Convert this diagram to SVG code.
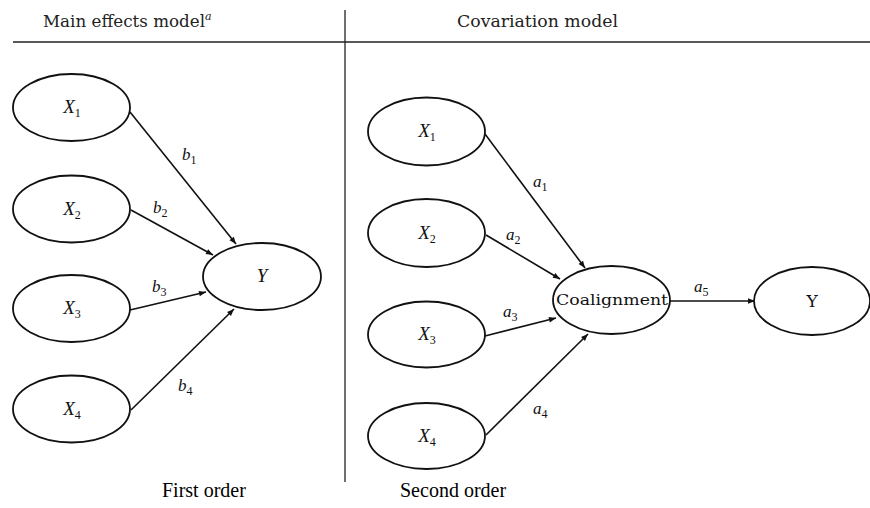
<svg xmlns="http://www.w3.org/2000/svg" width="870" height="508" viewBox="0 0 870 508">
<style>
.node{fill:#fff;stroke:#111;stroke-width:1.8}
.edge{stroke:#111;stroke-width:1.6;fill:none;marker-end:url(#arr)}
.rule{stroke:#222;stroke-width:1.3}
.hdr{font-family:"DejaVu Serif","Liberation Serif",serif;font-size:16.5px;fill:#222}
.var{font-family:"Liberation Serif",serif;font-style:italic;font-size:19px;fill:#111}
.sub{font-size:12px;font-style:normal}
.lab{font-family:"Liberation Serif",serif;font-style:italic;font-size:17px;fill:#111}
.cap{font-family:"Liberation Serif",serif;font-size:20px;fill:#000}
</style>
<defs>
<marker id="arr" viewBox="0 0 10 10" refX="10" refY="5" markerWidth="9" markerHeight="7" markerUnits="userSpaceOnUse" orient="auto">
<path d="M0,1 L10,5 L0,9 z" fill="#111"/>
</marker>
</defs>
<g id="headers">
<line class="rule" x1="13" y1="42" x2="870" y2="42"/>
<line class="rule" x1="345" y1="10" x2="345" y2="482"/>
<text class="hdr" x="43" y="27"><tspan textLength="162" lengthAdjust="spacingAndGlyphs">Main effects model</tspan><tspan font-style="italic" font-size="11" dy="-7">a</tspan></text>
<text class="hdr" x="457" y="27" textLength="161" lengthAdjust="spacingAndGlyphs">Covariation model</text>
</g>
<g id="connectors">
<line class="edge" x1="130" y1="112" x2="236" y2="244"/>
<line class="edge" x1="131" y1="210" x2="213" y2="255"/>
<line class="edge" x1="130" y1="310" x2="206" y2="292"/>
<line class="edge" x1="131" y1="410" x2="234" y2="309"/>
<line class="edge" x1="485" y1="134" x2="585" y2="268"/>
<line class="edge" x1="486" y1="235" x2="560" y2="279"/>
<line class="edge" x1="485" y1="336" x2="556" y2="318"/>
<line class="edge" x1="486" y1="435" x2="588" y2="334"/>
<line class="edge" x1="670" y1="301" x2="755" y2="301"/>
<text class="lab" x="182" y="160">b<tspan class="sub" dy="4">1</tspan></text>
<text class="lab" x="153" y="213">b<tspan class="sub" dy="4">2</tspan></text>
<text class="lab" x="152" y="292">b<tspan class="sub" dy="4">3</tspan></text>
<text class="lab" x="178" y="391">b<tspan class="sub" dy="4">4</tspan></text>
<text class="lab" x="533" y="187">a<tspan class="sub" dy="4">1</tspan></text>
<text class="lab" x="506" y="240">a<tspan class="sub" dy="4">2</tspan></text>
<text class="lab" x="503" y="317">a<tspan class="sub" dy="4">3</tspan></text>
<text class="lab" x="533" y="414">a<tspan class="sub" dy="4">4</tspan></text>
<text class="lab" x="694" y="292">a<tspan class="sub" dy="4">5</tspan></text>
</g>
<g id="L_X1"><ellipse class="node" cx="71.5" cy="107.5" rx="58.5" ry="33.5"/><text class="var" x="72" y="113" text-anchor="middle">X<tspan class="sub" dy="4">1</tspan></text></g>
<g id="L_X2"><ellipse class="node" cx="71.5" cy="209" rx="58.5" ry="33.5"/><text class="var" x="72" y="215" text-anchor="middle">X<tspan class="sub" dy="4">2</tspan></text></g>
<g id="L_X3"><ellipse class="node" cx="71.5" cy="308.5" rx="58.5" ry="33.5"/><text class="var" x="72" y="314" text-anchor="middle">X<tspan class="sub" dy="4">3</tspan></text></g>
<g id="L_X4"><ellipse class="node" cx="71.5" cy="409" rx="58.5" ry="33.5"/><text class="var" x="72" y="415" text-anchor="middle">X<tspan class="sub" dy="4">4</tspan></text></g>
<g id="L_Y"><ellipse class="node" cx="262" cy="276.5" rx="59" ry="33.5"/><text class="var" x="262" y="282" text-anchor="middle">Y</text></g>
<g id="R_X1"><ellipse class="node" cx="426.5" cy="131.5" rx="58.5" ry="34"/><text class="var" x="427" y="137" text-anchor="middle">X<tspan class="sub" dy="4">1</tspan></text></g>
<g id="R_X2"><ellipse class="node" cx="426.5" cy="233" rx="58.5" ry="34"/><text class="var" x="427" y="239" text-anchor="middle">X<tspan class="sub" dy="4">2</tspan></text></g>
<g id="R_X3"><ellipse class="node" cx="426.5" cy="334.5" rx="58.5" ry="33"/><text class="var" x="427" y="340" text-anchor="middle">X<tspan class="sub" dy="4">3</tspan></text></g>
<g id="R_X4"><ellipse class="node" cx="426.5" cy="436" rx="58.5" ry="33"/><text class="var" x="427" y="442" text-anchor="middle">X<tspan class="sub" dy="4">4</tspan></text></g>
<g id="Coalignment"><ellipse class="node" cx="611.5" cy="300" rx="58.5" ry="34"/><text x="612" y="305" text-anchor="middle" font-family="DejaVu Serif, serif" font-size="15" fill="#111" textLength="112" lengthAdjust="spacingAndGlyphs">Coalignment</text></g>
<g id="R_Y"><ellipse class="node" cx="812" cy="301" rx="58" ry="34"/><text x="812" y="307" text-anchor="middle" font-family="DejaVu Serif, serif" font-size="17" fill="#111">Y</text></g>
<text class="cap" x="162" y="497">First order</text>
<text class="cap" x="400" y="497">Second order</text>
</svg>
